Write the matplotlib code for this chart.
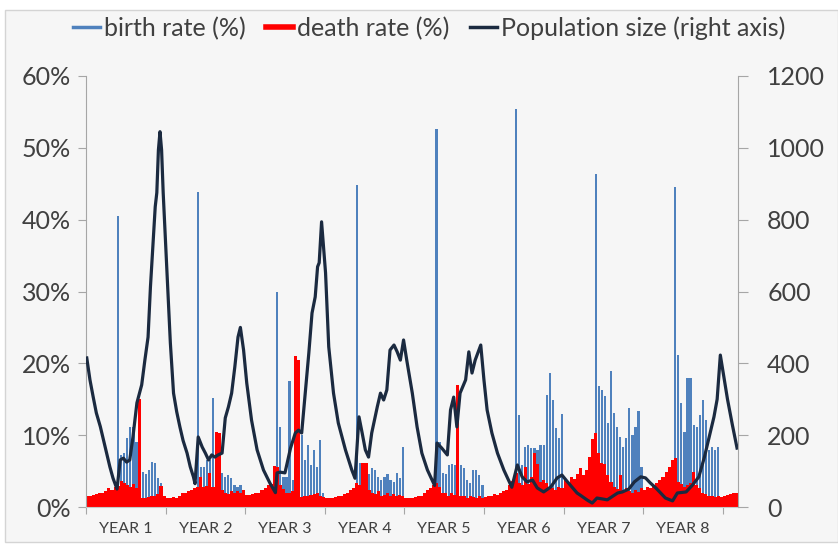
import numpy as np
import matplotlib.pyplot as plt
from matplotlib.lines import Line2D
from matplotlib.patches import Rectangle
from matplotlib.ticker import FuncFormatter

plt.rcParams['font.family'] = ['Lato', 'DejaVu Sans']

# fortnightly samples, 26 per year
per_year = 26
season_start = 10   # first breeding fortnight in each year

# death rate (%) per fortnight
death_y1 = [1.5, 1.6, 1.7, 1.8, 1.9, 2.0, 2.2, 2.6, 2.4, 2.8, 2.9, 3.6, 3.3, 3.0, 2.8, 3.2, 2.6, 15.0, 1.3, 1.2, 1.4, 1.5, 1.6, 1.8, 2.9, 1.5]
death_y2 = [1.3, 1.2, 1.4, 1.3, 1.6, 1.9, 2.0, 2.2, 2.4, 2.6, 2.8, 4.2, 2.8, 2.9, 4.7, 2.8, 10.5, 10.3, 2.4, 2.0, 1.8, 2.2, 2.0, 2.2, 1.9, 2.4]
death_y3 = [1.7, 1.7, 1.8, 1.9, 2.0, 2.3, 2.6, 3.0, 3.2, 5.7, 5.5, 3.0, 2.5, 2.0, 1.9, 2.2, 21.0, 20.5, 1.4, 1.6, 1.5, 1.7, 1.8, 1.9, 1.6, 1.4]
death_y4 = [1.3, 1.2, 1.3, 1.4, 1.5, 1.6, 1.8, 2.0, 2.3, 2.6, 3.3, 3.0, 6.1, 6.1, 2.4, 2.0, 1.8, 2.2, 1.6, 1.7, 1.9, 1.6, 1.8, 1.5, 1.7, 1.6]
death_y5 = [1.2, 1.3, 1.3, 1.4, 1.5, 1.6, 1.9, 2.4, 2.6, 3.1, 3.4, 2.8, 2.0, 1.9, 1.6, 1.9, 1.7, 17.0, 1.6, 1.5, 1.3, 1.5, 1.4, 1.2, 1.5, 1.3]
death_y6 = [1.4, 1.6, 1.5, 1.8, 1.7, 1.9, 2.2, 2.4, 3.0, 3.6, 4.7, 3.4, 3.0, 5.6, 3.2, 4.2, 7.5, 6.0, 3.5, 3.8, 3.3, 2.8, 2.6, 2.4, 2.8, 2.6]
death_y7 = [3.8, 3.4, 4.2, 3.9, 4.6, 5.4, 4.5, 5.2, 7.0, 9.5, 10.3, 7.5, 6.1, 6.0, 4.5, 3.5, 2.8, 2.5, 4.5, 2.4, 2.6, 2.2, 1.9, 2.4, 2.1, 2.6]
death_y8 = [2.4, 2.8, 2.6, 3.0, 3.3, 3.8, 4.2, 4.9, 5.6, 6.5, 6.8, 3.5, 3.2, 2.8, 3.0, 3.3, 4.9, 3.0, 2.6, 2.0, 1.8, 1.6, 1.5, 1.4, 1.5, 1.4]
death_tail = [1.6, 1.7, 1.8, 2.0, 1.9]

# birth rate (%) per fortnight, from season_start of each year on
birth_y1 = [40.5, 7.2, 7.5, 9.6, 11.1, 11.2, 9.1, 8.0, 4.9, 4.6, 5.2, 6.3, 6.1, 4.0, 3.3, 0]
birth_y2 = [43.8, 5.6, 5.6, 6.5, 6.5, 15.2, 5.6, 5.0, 4.7, 4.2, 4.5, 4.0, 3.1, 2.8, 3.1, 2.3]
birth_y3 = [30.0, 11.2, 4.2, 4.2, 17.5, 3.8, 8.0, 8.0, 10.0, 6.5, 8.6, 5.8, 7.9, 5.6, 9.3, 1.9]
birth_y4 = [44.8, 6.1, 6.1, 5.2, 4.6, 5.4, 5.2, 4.2, 3.8, 4.2, 4.6, 3.8, 3.5, 4.7, 4.0, 8.4]
birth_y5 = [52.6, 9.0, 4.7, 4.6, 5.9, 6.0, 5.9, 4.0, 5.9, 5.4, 3.8, 3.4, 5.1, 5.2, 4.4, 3.1]
birth_y6 = [55.4, 12.8, 5.8, 8.4, 8.6, 8.2, 8.2, 8.0, 8.6, 8.6, 15.6, 18.6, 14.9, 11.0, 9.6, 13.0]
birth_y7 = [46.3, 16.8, 16.3, 15.4, 11.7, 19.0, 13.1, 11.2, 9.8, 8.4, 9.6, 13.8, 10.0, 11.2, 13.3, 5.6]
birth_y8 = [44.6, 21.2, 14.5, 10.5, 18.0, 18.0, 11.4, 11.2, 12.8, 14.9, 12.1, 7.9, 8.4, 7.9, 8.4, 0]

# population size (right axis), time in years
pop_year = [0.01, 0.05, 0.09, 0.13, 0.18, 0.22, 0.26, 0.30, 0.34, 0.39,
            0.43, 0.47, 0.51, 0.55, 0.59, 0.64, 0.70, 0.74, 0.78, 0.81,
            0.84, 0.87, 0.89, 0.91, 0.93, 0.95, 0.97, 1.02, 1.06, 1.10,
            1.14, 1.18, 1.22, 1.27, 1.31, 1.35, 1.37, 1.41, 1.46, 1.50, 1.54, 1.58, 1.62,
            1.66, 1.71, 1.75, 1.79, 1.83, 1.87, 1.91, 1.94, 1.98, 2.02,
            2.08, 2.15, 2.23, 2.31, 2.38, 2.40, 2.44, 2.50, 2.57, 2.63,
            2.67, 2.71, 2.75, 2.80, 2.84, 2.88, 2.91, 2.93, 2.96, 3.01,
            3.05, 3.11, 3.17, 3.26, 3.34, 3.38, 3.43, 3.47, 3.51, 3.55,
            3.59, 3.66, 3.70, 3.74, 3.78, 3.82, 3.87, 3.91, 3.95, 3.99,
            4.03, 4.10, 4.16, 4.22, 4.29, 4.38, 4.41, 4.47, 4.54, 4.58,
            4.62, 4.66, 4.70, 4.77, 4.81, 4.85, 4.89, 4.96, 5.00, 5.04,
            5.10, 5.17, 5.25, 5.35, 5.42, 5.48, 5.54, 5.61, 5.67, 5.75,
            5.84, 5.92, 5.98, 6.05, 6.17, 6.21, 6.30, 6.36, 6.42, 6.55,
            6.68, 6.74, 6.82, 6.89, 6.97, 7.03, 7.09, 7.16, 7.22, 7.28,
            7.37, 7.43, 7.54, 7.62, 7.70, 7.77, 7.83, 7.89, 7.93, 7.97,
            8.06, 8.12, 8.18]
pop_size = [415, 354, 307, 262, 224, 187, 150, 112, 80, 50,
            131, 136, 125, 131, 195, 290, 340, 409, 473, 613,
            724, 836, 875, 994, 1045, 994, 875, 641, 457, 317,
            265, 223, 185, 150, 112, 84, 65, 195, 167, 150, 131, 145, 139,
            145, 150, 248, 279, 317, 390, 473, 500, 437, 345,
            242, 159, 103, 67, 40, 95, 97, 95, 164, 206,
            214, 206, 306, 429, 540, 585, 669, 680, 794, 652,
            446, 317, 234, 159, 103, 80, 251, 206, 159, 139,
            206, 279, 317, 298, 326, 437, 451, 432, 409, 465,
            409, 317, 223, 150, 103, 60, 178, 164, 145, 270,
            306, 223, 317, 354, 432, 373, 409, 451, 354, 270,
            206, 150, 103, 55, 117, 84, 70, 75, 53, 42,
            56, 81, 89, 70, 39, 33, 19, 11, 25, 20,
            39, 42, 50, 70, 84, 81, 67, 53, 39, 25,
            17, 39, 42, 61, 84, 139, 195, 251, 300, 423,
            300, 230, 164]

year_labels = ['YEAR 1', 'YEAR 2', 'YEAR 3', 'YEAR 4', 'YEAR 5', 'YEAR 6', 'YEAR 7', 'YEAR 8']

deaths = [death_y1, death_y2, death_y3, death_y4, death_y5, death_y6, death_y7, death_y8, death_tail]
births = [birth_y1, birth_y2, birth_y3, birth_y4, birth_y5, birth_y6, birth_y7, birth_y8]

death = np.concatenate([np.array(d, dtype=float) for d in deaths]) / 100
birth = np.zeros(len(death))
for k, b in enumerate(births):
    s = k * per_year + season_start
    birth[s:s + len(b)] = np.array(b) / 100
x = np.arange(len(death)) + 0.5

bg = '#f6f6f6'
grey = '#a6a6a6'
txt = '#404040'
navy = '#1b2a40'

fig = plt.figure(figsize=(8.38, 5.44), dpi=100, facecolor='white')
fig.patches.append(Rectangle((0.006, 0.004), 0.994, 0.978, transform=fig.transFigure,
                             facecolor=bg, edgecolor='#d4d4d4', lw=1, zorder=-10))
ax = fig.add_axes([0.1026, 0.068, 0.7781, 0.7923])
ax.set_facecolor(bg)

ax.bar(x, birth, width=0.72, color='#4f81bd', linewidth=0)
ax.bar(x, death, width=1.0, color='#ff0000', linewidth=0)
ax.set_xlim(0, len(death))
ax.set_ylim(0, 0.6)
ax.set_yticks(np.arange(0, 0.61, 0.1))
ax.yaxis.set_major_formatter(FuncFormatter(lambda v, p: f'{v * 100:.0f}%'))

ax.set_xticks(np.arange(0, 8 * per_year + 1, per_year))
ax.set_xticklabels([])
ax.set_xticks(np.arange(8) * per_year + per_year / 2, minor=True)
ax.set_xticklabels(year_labels, minor=True)
ax.tick_params(axis='x', which='major', length=5, color=grey, direction='out')
ax.tick_params(axis='x', which='minor', length=0, pad=11, labelsize=11.5, labelcolor=txt)
ax.tick_params(axis='y', length=6, color=grey, direction='out', pad=5, labelsize=18, labelcolor=txt)
for s in ['top', 'right']:
    ax.spines[s].set_visible(False)
ax.spines['left'].set_color(grey)
ax.spines['bottom'].set_color('#c8c8c8')

ax2 = ax.twinx()
ax2.plot(np.array(pop_year) * per_year, pop_size, color=navy, lw=2.3, solid_joinstyle='round')
ax2.set_ylim(0, 1200)
ax2.set_yticks(np.arange(0, 1201, 200))
ax2.tick_params(axis='y', length=7, color=grey, direction='out', pad=14, labelsize=18, labelcolor=txt)
for s in ['top', 'left', 'bottom']:
    ax2.spines[s].set_visible(False)
ax2.spines['right'].set_color(grey)

handles = [Line2D([], [], color='#4f81bd', lw=2.5),
           Line2D([], [], color='#ff0000', lw=4),
           Line2D([], [], color=navy, lw=2.5)]
fig.legend(handles, ['birth rate (%)', 'death rate (%)', 'Population size (right axis)'],
           loc='center', bbox_to_anchor=(0.512, 0.948), ncol=3, frameon=False,
           fontsize=18, handlelength=1.1, handletextpad=0.15, columnspacing=0.8,
           labelcolor=txt)

fig.savefig('out.png', dpi=100, facecolor='white')
